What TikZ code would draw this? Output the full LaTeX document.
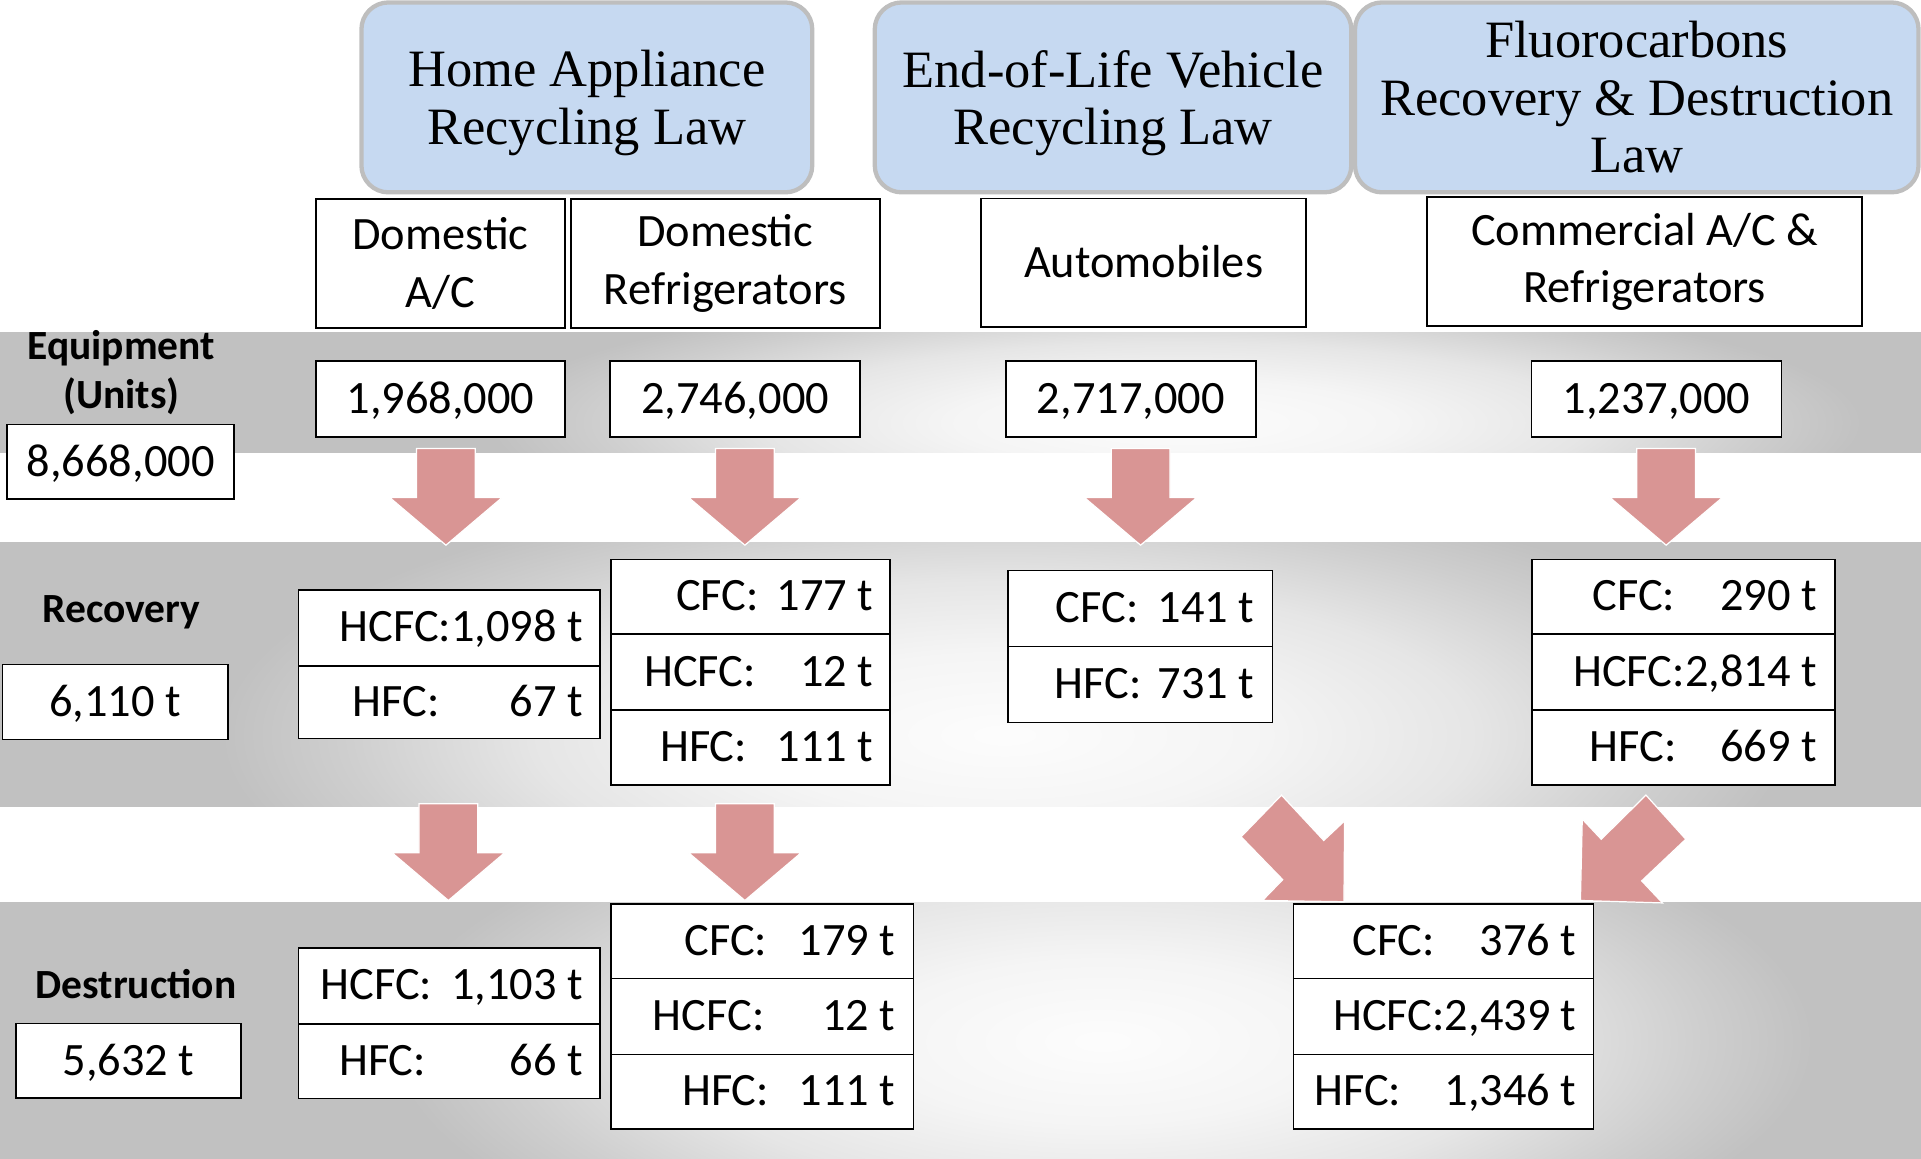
\documentclass[tikz,border=0pt]{standalone}
\usepackage{fontspec}
\setmainfont{Liberation Serif}
\newfontfamily\calib{Carlito}
\definecolor{hdrfill}{RGB}{198,217,241}
\definecolor{hdrline}{RGB}{190,190,190}
\definecolor{arrowc}{RGB}{217,149,148}
\definecolor{bandgray}{RGB}{193,193,193}
\pgfdeclareradialshading{glowshade}{\pgfpoint{0bp}{0bp}}{color(0bp)=(black!1); color(8bp)=(black!4); color(15bp)=(black!10); color(21bp)=(black!19); color(25bp)=(bandgray); color(50bp)=(bandgray)}
\tikzset{
  band/.style={fill=bandgray},
  glow/.style={shading=glowshade},
  cell/.style={draw=black, fill=white, line width=1.4bp, inner sep=0pt},
  txt/.style={font=\calib\fontsize{38}{47}\selectfont, inner sep=0pt},
  one/.style={text height=24bp, text depth=0bp},
  hdr/.style={draw=hdrline, fill=hdrfill, line width=3.5bp, rounded corners=22bp,
    inner sep=0pt, align=center, font=\fontsize{43}{47}\selectfont},
  boldlab/.style={font=\calib\bfseries\fontsize{34}{40}\selectfont, align=center, inner sep=0pt},
  blk/.style={fill=arrowc, draw=white, line width=1bp}
}
\newcommand\blockdown[2]{%
  \path[blk] (#1-24,#2) -- (#1+24,#2) -- (#1+24,#2+40) -- (#1+46,#2+40) -- (#1,#2+79)
    -- (#1-46,#2+40) -- (#1-24,#2+40) -- cycle;}
% name, x1, x2, y1, y2, label-left, value-right, label, value
\newcommand\trow[9]{%
  \node[cell, anchor=north west, minimum width={(#3-#2)*1bp}, minimum height={(#5-#4)*1bp}] (#1) at (#2,#4) {};
  \node[txt, anchor=base east] (#1t) at (#7,{(#4+#5)/2+12}) {\makebox[\dimexpr #7bp-#6bp\relax]{#8\hfill #9}};}
\begin{document}
\begin{tikzpicture}[x=1bp, y=-1bp]
\useasboundingbox (0,0) rectangle (1568,946);
% bands
\begin{scope}
  \clip (0,271) rectangle (1568,369);
  \path[band] (-5,266) rectangle (1573,374);
  \shade[glow] (960,345) ellipse [x radius=560, y radius=110];
\end{scope}
\begin{scope}
  \clip (0,443) rectangle (1568,658);
  \path[band] (-5,438) rectangle (1573,663);
  \shade[glow] (820,600) ellipse [x radius=640, y radius=210];
\end{scope}
\begin{scope}
  \clip (0,737) rectangle (1568,946);
  \path[band] (-5,732) rectangle (1573,951);
  \shade[glow] (900,850) ellipse [x radius=580, y radius=210];
\end{scope}

% law headers
\node[hdr, minimum width=368bp, minimum height=155bp] (hHome) at (479,79.5) {};
\node[hdr, draw=none, fill=none, rounded corners=0pt] (hHomet) at (479,84) {Home Appliance\\Recycling Law};
\node[hdr, minimum width=389bp, minimum height=155bp] (hELV) at (908.5,79.5) {};
\node[hdr, draw=none, fill=none, rounded corners=0pt] (hELVt) at (908.5,84) {End-of-Life Vehicle\\Recycling Law};
\node[hdr, minimum width=460bp, minimum height=155bp] (hFl) at (1336,79.5) {Fluorocarbons\\Recovery \& Destruction\\Law};

% categories
\node[cell, txt, align=center, minimum width=203bp, minimum height=105bp] (catAC) at (359.5,215) {Domestic\\A/C};
\node[cell, txt, align=center, minimum width=252bp, minimum height=105bp] (catRef) at (592,215) {Domestic\\Refrigerators};
\node[cell, txt, one, minimum width=265bp, minimum height=105bp] (catAuto) at (933.5,214.5) {Automobiles};
\node[cell, txt, align=center, minimum width=355bp, minimum height=105bp] (catCom) at (1342.5,213.5) {Commercial A/C \&\\Refrigerators};

% row labels and totals
\node[boldlab] (lEq) at (99,304) {Equipment\\(Units)};
\node[boldlab] (lRec) at (99,500) {Recovery};
\node[boldlab] (lDes) at (111,803) {Destruction};
\node[cell, txt, one, minimum width=185bp, minimum height=61bp] (tEq) at (98.5,377) {8,668,000};
\node[cell, txt, one, minimum width=184bp, minimum height=61bp] (tRec) at (94,573) {6,110 t};
\node[cell, txt, one, minimum width=184bp, minimum height=61bp] (tDes) at (105,866) {5,632 t};

% equipment numbers
\node[cell, txt, one, minimum width=203bp, minimum height=62bp] (n1) at (359.5,325.5) {1,968,000};
\node[cell, txt, one, minimum width=204bp, minimum height=62bp] (n2) at (600,325.5) {2,746,000};
\node[cell, txt, one, minimum width=204bp, minimum height=62bp] (n3) at (923,325.5) {2,717,000};
\node[cell, txt, one, minimum width=204bp, minimum height=62bp] (n4) at (1352,325.5) {1,237,000};

% arrows
\blockdown{364}{366}
\blockdown{608}{366}
\blockdown{931}{366}
\blockdown{1360}{366}
\blockdown{366}{656}
\blockdown{608}{656}
\path[blk] (1046,649) -- (1013,683) -- (1047,718) -- (1030.5,735) -- (1097,736) -- (1097.5,670) -- (1080.5,686) -- cycle;
\path[blk] (1343.5,649) -- (1376,685) -- (1340,719) -- (1357,737) -- (1290,735) -- (1291.5,668.5) -- (1307,685) -- cycle;

% recovery
\trow{ra1}{243}{489}{481}{543}{200}{476}{}{HCFC:1,098 t}
\trow{ra2}{243}{489}{543}{602}{288}{476}{HFC:}{67 t}
\trow{rb1}{498}{726}{456}{517}{552}{713}{CFC:}{177 t}
\trow{rb2}{498}{726}{517}{579}{526}{713}{HCFC:}{12 t}
\trow{rb3}{498}{726}{579}{640}{539}{713}{HFC:}{111 t}
\trow{rc1}{822}{1038}{465}{527}{862}{1024}{CFC:}{141 t}
\trow{rc2}{822}{1038}{527}{589}{861}{1024}{HFC:}{731 t}
\trow{rd1}{1250}{1497}{456}{517}{1300}{1483}{CFC:}{290 t}
\trow{rd2}{1250}{1497}{517}{579}{1200}{1483}{}{HCFC:2,814 t}
\trow{rd3}{1250}{1497}{579}{640}{1298}{1483}{HFC:}{669 t}

% destruction
\trow{da1}{243}{489}{773}{835}{262}{476}{HCFC:}{1,103 t}
\trow{da2}{243}{489}{835}{896}{277}{476}{HFC:}{66 t}
\trow{db1}{498}{745}{737}{798}{559}{731}{CFC:}{179 t}
\trow{db2}{498}{745}{798}{860}{533}{731}{HCFC:}{12 t}
\trow{db3}{498}{745}{860}{921}{557}{731}{HFC:}{111 t}
\trow{dc1}{1055}{1300}{737}{798}{1104}{1287}{CFC:}{376 t}
\trow{dc2}{1055}{1300}{798}{860}{1000}{1287}{}{HCFC:2,439 t}
\trow{dc3}{1055}{1300}{860}{921}{1073}{1287}{HFC:}{1,346 t}
\end{tikzpicture}
\end{document}
